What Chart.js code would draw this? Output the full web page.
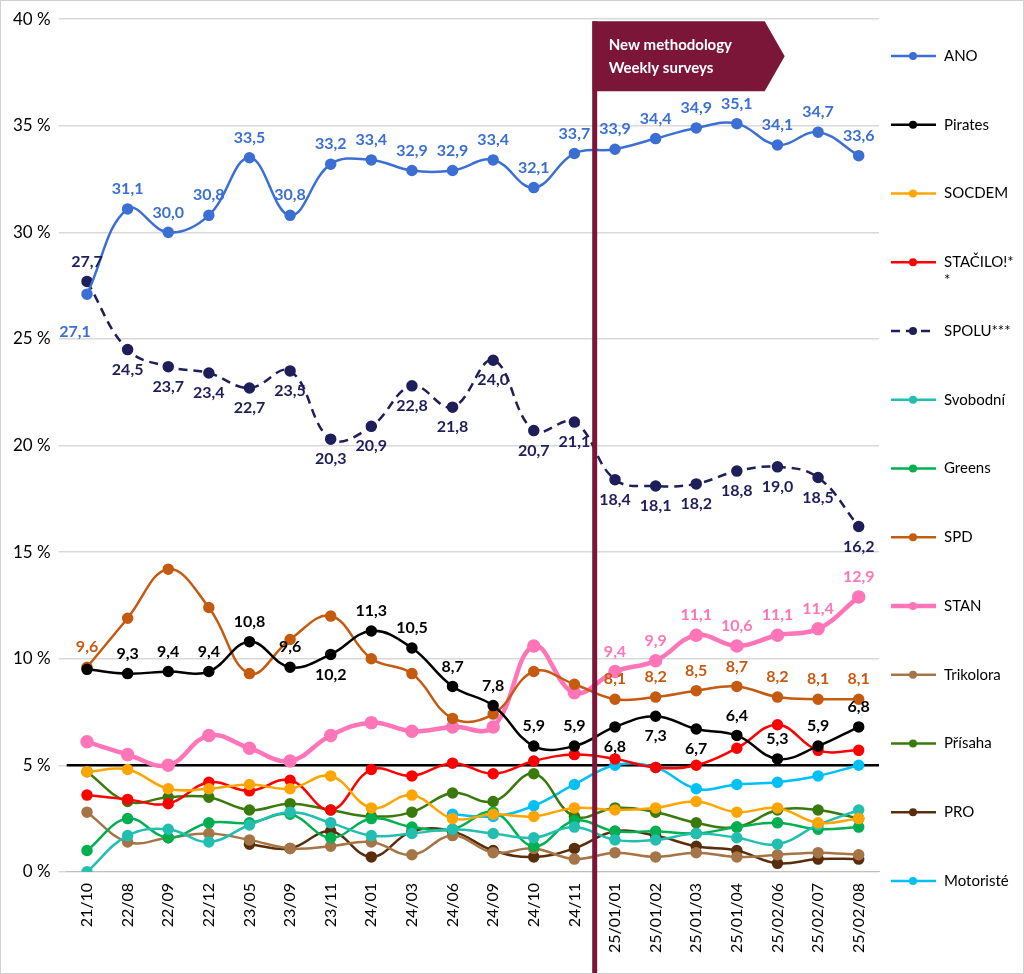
<!DOCTYPE html>
<html>
<head>
<meta charset="utf-8">
<script src="https://cdn.jsdelivr.net/npm/chart.js@4/dist/chart.umd.min.js"></script>
<style>
body { margin: 0; background: #fff; }
#wrap { width: 1022px; height: 972px; border: 1px solid #d0d0d0; }
</style>
</head>
<body>
<div id="wrap"><canvas id="c" width="1022" height="972"></canvas></div>
<script>
var labels = ['21/10','22/08','22/09','22/12','23/05','23/09','23/11','24/01','24/03','24/06','24/09','24/10','24/11','25/01/01','25/01/02','25/01/03','25/01/04','25/02/06','25/02/07','25/02/08'];

var ano      = [27.1,31.1,30.0,30.8,33.5,30.8,33.2,33.4,32.9,32.9,33.4,32.1,33.7,33.9,34.4,34.9,35.1,34.1,34.7,33.6];
var pirates  = [9.5,9.3,9.4,9.4,10.8,9.6,10.2,11.3,10.5,8.7,7.8,5.9,5.9,6.8,7.3,6.7,6.4,5.3,5.9,6.8];
var socdem   = [4.7,4.8,3.9,3.9,4.1,3.9,4.5,3.0,3.6,2.5,2.7,2.6,3.0,2.9,3.0,3.3,2.8,3.0,2.3,2.5];
var stacilo  = [3.6,3.4,3.2,4.2,3.8,4.3,2.9,4.8,4.5,5.1,4.6,5.2,5.5,5.3,4.9,5.0,5.8,6.9,5.7,5.7];
var spolu    = [27.7,24.5,23.7,23.4,22.7,23.5,20.3,20.9,22.8,21.8,24.0,20.7,21.1,18.4,18.1,18.2,18.8,19.0,18.5,16.2];
var svobodni = [0.0,1.7,2.0,1.4,2.2,2.8,2.3,1.7,1.8,2.0,1.8,1.6,2.1,1.5,1.5,1.8,1.6,1.3,2.2,2.9];
var greens   = [1.0,2.5,1.6,2.3,2.3,2.7,1.6,2.5,2.1,2.0,2.8,1.2,2.4,1.9,1.9,1.8,2.1,2.3,2.0,2.1];
var spd      = [9.6,11.9,14.2,12.4,9.3,10.9,12.0,10.0,9.3,7.2,7.4,9.4,8.8,8.1,8.2,8.5,8.7,8.2,8.1,8.1];
var stan     = [6.1,5.5,5.0,6.4,5.8,5.2,6.4,7.0,6.6,6.8,6.8,10.6,8.4,9.4,9.9,11.1,10.6,11.1,11.4,12.9];
var trikolora= [2.8,1.4,1.6,1.8,1.5,1.1,1.2,1.4,0.8,1.7,0.9,1.1,0.6,0.9,0.7,0.9,0.7,0.8,0.9,0.8];
var prisaha  = [4.7,3.3,3.5,3.5,2.9,3.2,2.9,2.6,2.8,3.7,3.3,4.6,2.6,3.0,2.8,2.3,2.1,2.9,2.9,2.5];
var pro      = [null,null,null,null,1.3,1.1,1.9,0.7,1.9,1.9,1.0,0.7,1.1,1.9,1.7,1.2,1.0,0.4,0.6,0.6];
var motoriste= [null,null,null,null,null,null,null,null,null,2.7,2.6,3.1,4.1,5.0,4.9,3.9,4.1,4.2,4.5,5.0];

// label placement: a = above, b = below, l = below-left, '' = none
var anoLbl    = ['l','a','a','a','a','a','a','a','a','a','a','a','a','a','a','a','a','a','a','a'];
var spoluLbl  = ['a','b','b','b','b','b','b','b','b','b','b','b','b','b','b','b','b','b','b','b'];
var piratesLbl= ['','a','a','a','a','a','b','a','a','a','a','a','a','b','b','b','a','a','a','a'];
var spdLbl    = ['a','','','','','','','','','','','','','a','a','a','a','a','a','a'];
var stanLbl   = ['','','','','','','','','','','','','','a','a','a','a','a','a','a'];

function ds(name, data, color, opts) {
  var d = {
    label: name, data: data, borderColor: color, backgroundColor: color,
    borderWidth: 2.5, pointRadius: 4.5, pointHoverRadius: 4.5, tension: 0.4, spanGaps: false
  };
  for (var k in opts) d[k] = opts[k];
  return d;
}

var datasets = [
  ds('ANO', ano, '#3B6FD4', {lbl: anoLbl}),
  ds('Pirates', pirates, '#000000', {lbl: piratesLbl}),
  ds('SOCDEM', socdem, '#FFA500', {}),
  ds('STAČILO!*\n*', stacilo, '#FF0000', {}),
  ds('SPOLU***', spolu, '#1E1E5A', {borderDash: [9, 6], lbl: spoluLbl}),
  ds('Svobodní', svobodni, '#22BFB0', {}),
  ds('Greens', greens, '#00B050', {}),
  ds('SPD', spd, '#C55A11', {lbl: spdLbl}),
  ds('STAN', stan, '#FF75B8', {borderWidth: 4.5, lbl: stanLbl}),
  ds('Trikolora', trikolora, '#A57548', {}),
  ds('Přísaha', prisaha, '#3A7A0C', {}),
  ds('PRO', pro, '#5A2D0C', {}),
  ds('Motoristé', motoriste, '#00C0F5', {})
];

var extras = {
  id: 'extras',
  beforeDatasetsDraw: function (chart) {
    var ctx = chart.ctx, y = chart.scales.y, a = chart.chartArea;
    ctx.save();
    // 5 % threshold
    ctx.strokeStyle = '#000'; ctx.lineWidth = 2.5;
    ctx.beginPath(); ctx.moveTo(a.left, y.getPixelForValue(5)); ctx.lineTo(a.right, y.getPixelForValue(5)); ctx.stroke();
    ctx.restore();
  },
  afterDatasetsDraw: function (chart) {
    var ctx = chart.ctx, x = chart.scales.x, a = chart.chartArea;
    ctx.save();
    // methodology divider
    var xm = (x.getPixelForValue(12) + x.getPixelForValue(13)) / 2;
    ctx.strokeStyle = '#7B1638'; ctx.lineWidth = 5;
    ctx.beginPath(); ctx.moveTo(xm, a.top + 2); ctx.lineTo(xm, chart.height); ctx.stroke();
    ctx.fillStyle = '#7B1638';
    ctx.beginPath();
    ctx.moveTo(xm - 2, a.top + 2); ctx.lineTo(xm + 170, a.top + 2); ctx.lineTo(xm + 190, a.top + 37);
    ctx.lineTo(xm + 170, a.top + 72); ctx.lineTo(xm - 2, a.top + 72); ctx.closePath(); ctx.fill();
    ctx.fillStyle = '#fff'; ctx.font = 'bold 15px Lato'; ctx.textAlign = 'left'; ctx.textBaseline = 'middle';
    ctx.fillText('New methodology', xm + 14, a.top + 26);
    ctx.fillText('Weekly surveys', xm + 14, a.top + 49);

    // data labels
    ctx.font = 'bold 16px Lato'; ctx.textAlign = 'center';
    chart.data.datasets.forEach(function (d, i) {
      if (!d.lbl) return;
      var meta = chart.getDatasetMeta(i);
      meta.data.forEach(function (p, j) {
        var pos = d.lbl[j];
        if (!pos) return;
        var txt = d.data[j].toFixed(1).replace('.', ',');
        var dx = 0, dy = -20;
        if (pos === 'b') dy = 20;
        if (pos === 'l') { dx = -12; dy = 38; }
        ctx.fillStyle = d.borderColor;
        ctx.fillText(txt, p.x + dx, p.y + dy);
      });
    });

    // legend on the right
    var n = chart.data.datasets.length;
    var top = 55, step = (880 - 55) / (n - 1);
    ctx.font = '15px Lato';
    chart.data.datasets.forEach(function (d, i) {
      var yy = top + step * i;
      ctx.strokeStyle = d.borderColor; ctx.lineWidth = d.borderWidth;
      ctx.setLineDash(d.borderDash || []);
      ctx.beginPath(); ctx.moveTo(890, yy); ctx.lineTo(935, yy); ctx.stroke();
      ctx.setLineDash([]);
      ctx.fillStyle = d.borderColor;
      ctx.beginPath(); ctx.arc(912, yy, 4, 0, Math.PI * 2); ctx.fill();
      ctx.fillStyle = '#000'; ctx.textAlign = 'left';
      var lines = d.label.split('\n');
      lines.forEach(function (t, k) { ctx.fillText(t, 943, yy + k * 18); });
    });
    ctx.restore();
  }
};

new Chart(document.getElementById('c'), {
  type: 'line',
  data: { labels: labels, datasets: datasets },
  plugins: [extras],
  options: {
    responsive: false,
    animation: false,
    layout: { padding: { top: 9, right: 144, left: 4, bottom: 17 } },
    plugins: { legend: { display: false }, tooltip: { enabled: false } },
    scales: {
      x: {
        offset: true,
        grid: { display: false },
        border: { color: '#bfbfbf' },
        ticks: { color: '#000', font: { family: 'Lato', size: 16 }, maxRotation: 90, minRotation: 90, autoSkip: false }
      },
      y: {
        min: 0, max: 40,
        grid: { color: '#d9d9d9', lineWidth: 1.5 },
        border: { display: false },
        ticks: { stepSize: 5, color: '#000', padding: 8, font: { family: 'Lato', size: 17 }, callback: function (v) { return v + ' %'; } }
      }
    }
  }
});
</script>
</body>
</html>
